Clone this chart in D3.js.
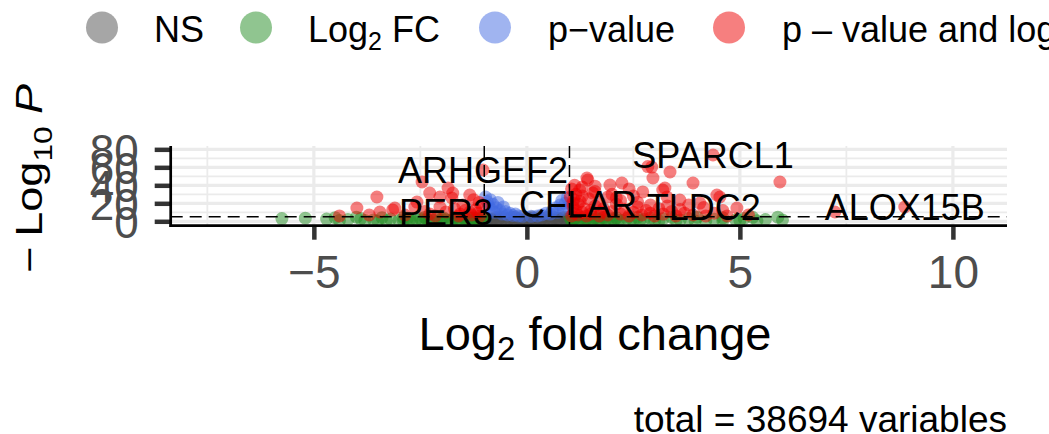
<!DOCTYPE html>
<html><head><meta charset="utf-8">
<script src="https://cdn.jsdelivr.net/npm/d3@7"></script>
<style>body{margin:0;background:#fff}svg{display:block;font-family:"Liberation Sans",Arial,Helvetica,sans-serif}</style>
</head><body><svg id="c" width="1049" height="434"></svg>
<script>
// ---- data: [log2 fold change, -log10 P] ----
const nsPoints = [[-0.95,1.2],[-0.9,3.1],[-0.85,0.4],[-0.8,2.2],[-0.75,4.1],[-0.7,1.0],[-0.65,2.9],[-0.6,0.3],[-0.55,3.8],[-0.5,1.6],[-0.45,0.6],[-0.4,2.5],[-0.35,4.4],[-0.3,1.1],[-0.25,0.2],[-0.2,3.0],[-0.15,1.8],[-0.1,0.5],[-0.05,2.4],[0,0.1],[0.05,1.4],[0.1,3.3],[0.15,0.7],[0.2,2.1],[0.25,4.0],[0.3,0.9],[0.35,2.7],[0.4,0.3],[0.45,3.6],[0.5,1.3],[0.55,0.5],[0.6,2.3],[0.65,4.3],[0.7,1.0],[0.75,2.9],[0.8,0.4],[0.85,3.7],[0.9,1.7],[0.95,0.8],[-0.98,4.6],[-0.62,4.7],[-0.28,4.6],[0.12,4.8],[0.48,4.6],[0.88,4.7],[-0.88,2.0],[-0.42,3.3],[0.02,3.9],[0.32,1.8],[0.72,3.4],[-0.72,2.6],[-0.18,0.9],[0.22,0.2],[0.62,0.9],[0.97,2.6]];
const fcPoints = [[-5.75,3.0],[-5.2,3.5],[-4.7,2.5],[-4.5,4.0],[-4.2,2.0],[-3.9,3.0],[-3.6,1.5],[-3.4,4.0],[-3.2,2.5],[-3.0,1.0],[-2.8,3.5],[-2.6,2.0],[-2.4,4.2],[-2.2,1.2],[-2.0,3.0],[-1.8,0.8],[-1.6,2.2],[-1.5,4.0],[-1.4,1.5],[-1.3,3.3],[-1.2,0.5],[-1.1,2.5],[-1.05,4.5],[-1.15,1.0],[-1.25,3.8],[-1.35,0.3],[-1.7,4.5],[-1.9,1.8],[-2.1,4.6],[-2.3,0.6],[-2.5,2.8],[-2.7,0.9],[-2.9,4.3],[-3.3,0.7],[-3.8,1.0],[-4.0,4.5],[1.05,0.5],[1.1,2.0],[1.15,3.5],[1.2,1.0],[1.3,4.3],[1.4,2.5],[1.5,0.8],[1.6,3.8],[1.7,1.6],[1.8,4.5],[1.9,0.4],[2.0,2.7],[2.1,4.0],[2.2,1.2],[2.35,3.2],[2.5,0.7],[2.6,4.4],[2.75,2.0],[2.9,3.6],[3.0,0.9],[3.2,2.8],[3.4,4.2],[3.6,1.3],[3.8,3.0],[4.0,4.6],[4.2,0.6],[4.4,2.4],[4.6,3.9],[4.9,1.5],[5.1,3.2],[5.3,4.4],[5.6,2.0],[5.89,4.6],[6.0,1.5],[1.25,2.2],[1.45,1.1],[1.65,2.9],[1.85,1.9],[2.05,0.9],[2.45,2.3],[-1.45,2.8],[-1.65,1.1],[-1.95,3.6],[-2.35,2.4],[-2.75,1.6],[-4.4,0.8],[-3.5,0.4],[-2.9,0.3],[-2.45,0.5],[-2.05,0.2],[-1.75,0.4],[-1.55,0.2],[-1.25,1.5],[-1.08,0.2],[1.08,0.2],[1.35,0.3],[1.55,1.9],[1.75,0.2],[2.15,0.3],[2.65,0.5],[3.1,0.3],[3.5,0.6],[3.95,0.4],[4.6,0.5],[5.0,0.8],[5.4,0.6],[-1.02,1.7],[1.02,3.0],[1.12,4.2],[-1.18,3.0]];
const pPoints = [[-0.97,27],[-0.93,22],[-0.9,17],[-0.86,24],[-0.83,13],[-0.8,19],[-0.76,10],[-0.72,15],[-0.68,21],[-0.63,12],[-0.58,8],[-0.55,16],[-0.5,11],[-0.45,7],[-0.4,9],[-0.33,6.5],[-0.27,8],[-0.2,6],[-0.1,5.5],[0.1,5.5],[0.25,6],[0.35,7],[0.45,9],[0.55,8],[0.6,12],[0.68,15],[0.72,10],[0.78,18],[0.82,23],[0.86,13],[0.9,20],[0.95,26],[0.97,16]];
const bothPoints = [[4.37,73.7],[2.93,60.3],[2.84,60.8],[3.36,54.8],[2.96,48.1],[1.41,48.1],[1.43,45.9],[2.23,42.6],[1.95,40.3],[3.90,42.6],[5.94,43.7],[3.24,37.0],[3.19,34.8],[1.24,34.8],[2.72,32.6],[1.55,31.4],[4.46,29.2],[3.29,27.0],[4.53,27.0],[3.59,23.7],[4.06,20.3],[4.93,14.8],[7.23,10.3],[8.87,15.9],[1.08,15.9],[1.20,19.2],[4.15,15.3],[1.05,6],[1.1,9],[1.15,12],[1.2,7],[1.3,10],[1.35,14],[1.4,6],[1.5,8],[1.5,12],[1.6,17],[1.7,6],[1.75,10],[1.8,14],[1.9,7],[2.0,11],[2.1,19],[2.2,8],[2.3,13],[2.4,6],[2.5,10],[2.6,16],[2.7,7],[2.8,12],[2.9,9],[3.0,6],[3.1,14],[3.2,8],[3.4,11],[3.5,6],[3.7,9],[3.9,7],[4.2,6],[4.4,9],[4.7,6],[1.25,22],[1.45,25],[1.7,21],[1.9,27],[2.2,23],[2.5,28],[2.0,30],[1.3,28],[1.6,33],[1.1,24],[1.15,30],[1.05,36],[1.12,40],[1.3,38],[1.02,27],[1.08,20],[2.6,21],[2.9,18],[3.3,17],[3.6,13],[3.8,18],[4.6,12],[5.2,7],[1.6,39],[2.4,36],[2.1,26],[-1.03,57.0],[-2.46,43.7],[-1.85,37.0],[-2.28,31.4],[-1.74,31.4],[-1.34,29.2],[-3.52,27.0],[-2.04,27.0],[-1.76,25.9],[-2.58,21.4],[-1.50,18.1],[-2.63,15.9],[-2.04,15.9],[-3.99,14.8],[-3.10,14.8],[-3.15,12.6],[-3.45,10.3],[-1.90,10.3],[-1.34,10.3],[-1.57,8.1],[-1.15,9.2],[-2.28,8.1],[-2.86,7.0],[-1.1,6],[-1.2,13],[-1.3,7],[-1.45,12],[-1.6,6],[-1.7,14],[-2.15,6],[-2.4,11],[-1.05,16],[-1.12,21],[-1.25,24],[-4.4,6],[-3.7,7]];
const geneLabels = ["SPARCL1","ARHGEF2","CFLAR","TLDC2","PER3","ALOX15B"];
const labelPoints = [[4.37,73.7],[-1.03,57.0],[1.20,19.2],[4.15,15.3],[-1.90,10.3],[8.87,15.9]];
const xTicks = [-5,0,5,10];
const xMinor = [-7.5,-2.5,2.5,7.5];
const yTicks = [0,20,40,60,80];
const yMinor = [10,30,50,70];
const legendNames = ["NS","Log2 FC","p−value","p – value and log2 FC"];
const legendColors = ["#4d4d4d","#228B22","#4169E1","#EE0000"];
const fcCutoff = 1, pCutoff = 5;
const totalVars = 38694;

// ---- layout ----
const svg = d3.select("#c");
const L = 170.7, R = 1007, T = 146, B = 225.7;
const x = d3.scaleLinear().domain([-8.36, 11.27]).range([L, R]);
const y = d3.scaleLinear().domain([-4.9, 83.7]).range([B, T]);

svg.append("rect").attr("width",1049).attr("height",434).attr("fill","#fff");
svg.append("clipPath").attr("id","pc").append("rect").attr("x",L).attr("y",T).attr("width",R-L).attr("height",B-T);

// grid
const g = svg.append("g");
g.selectAll(".gxm").data(xMinor).join("line").attr("x1",d=>x(d)).attr("x2",d=>x(d)).attr("y1",T).attr("y2",B).attr("stroke","#ebebeb").attr("stroke-width",1.8);
g.selectAll(".gym").data(yMinor).join("line").attr("y1",d=>y(d)).attr("y2",d=>y(d)).attr("x1",L).attr("x2",R).attr("stroke","#ebebeb").attr("stroke-width",1.8);
g.selectAll(".gx").data(xTicks).join("line").attr("x1",d=>x(d)).attr("x2",d=>x(d)).attr("y1",T).attr("y2",B).attr("stroke","#ebebeb").attr("stroke-width",3.2);
g.selectAll(".gy").data(yTicks).join("line").attr("y1",d=>y(d)).attr("y2",d=>y(d)).attr("x1",L).attr("x2",R).attr("stroke","#ebebeb").attr("stroke-width",3.2);

// points
const pts = svg.append("g").attr("clip-path","url(#pc)");
[[nsPoints,0],[fcPoints,1],[pPoints,2],[bothPoints,3]].forEach(([arr,ci])=>{
  pts.append("g").selectAll("circle").data(arr).join("circle")
    .attr("cx",d=>x(d[0])).attr("cy",d=>y(d[1])).attr("r",6.5)
    .attr("fill",legendColors[ci]).attr("fill-opacity",0.5);
});

// cutoff lines
const cut = svg.append("g").attr("clip-path","url(#pc)").attr("stroke","#000").attr("stroke-width",1.5).attr("stroke-dasharray","12,7");
[-fcCutoff, fcCutoff].forEach(v=>cut.append("line").attr("x1",x(v)).attr("x2",x(v)).attr("y1",T).attr("y2",B));
cut.append("line").attr("x1",L).attr("x2",R).attr("y1",y(pCutoff)).attr("y2",y(pCutoff));

// labels
svg.append("g").selectAll("text").data(geneLabels).join("text")
  .attr("x",(d,i)=>x(labelPoints[i][0])).attr("y",(d,i)=>y(labelPoints[i][1]))
  .attr("dy","0.36em").attr("text-anchor","middle").attr("font-size",36).attr("fill","#000").text(d=>d);

// axes
const xa = svg.append("g").attr("transform",`translate(0,${B})`)
  .call(d3.axisBottom(x).tickValues(xTicks).tickSize(14).tickPadding(16));
xa.select(".domain").remove();
xa.selectAll(".tick line").attr("stroke","#333").attr("stroke-width",4.5);
xa.selectAll(".tick text").attr("fill","#4d4d4d").attr("font-size",46).attr("font-family","Liberation Sans, Arial, sans-serif");

const ya = svg.append("g").attr("transform",`translate(${L},0)`)
  .call(d3.axisLeft(y).tickValues(yTicks).tickSize(16).tickPadding(16));
ya.select(".domain").remove();
ya.selectAll(".tick line").attr("stroke","#333").attr("stroke-width",4.5);
ya.selectAll(".tick text").attr("fill","#4d4d4d").attr("font-size",44).attr("dy","0.36em").attr("font-family","Liberation Sans, Arial, sans-serif");

svg.append("line").attr("x1",L).attr("x2",L).attr("y1",T).attr("y2",B+1.3).attr("stroke","#000").attr("stroke-width",2.7);
svg.append("line").attr("x1",L-1.3).attr("x2",R).attr("y1",B).attr("y2",B).attr("stroke","#000").attr("stroke-width",2.7);

// axis titles
const xt = svg.append("text").attr("x",595).attr("y",350).attr("text-anchor","middle").attr("font-size",47).attr("fill","#000");
xt.append("tspan").text("Log");
xt.append("tspan").attr("font-size",33).attr("dy",10).text("2");
xt.append("tspan").attr("dy",-10).text(" fold change");

const yt = svg.append("text").attr("transform","translate(42,273) rotate(-90) scale(1.22,1)").attr("text-anchor","start").attr("font-size",37).attr("fill","#000");
yt.append("tspan").text("−");
yt.append("tspan").attr("dx",8).text("Log");
yt.append("tspan").attr("font-size",26).attr("dy",10).text("10");
yt.append("tspan").attr("dy",-10).attr("dx",10).attr("font-style","italic").text("P");

// caption
svg.append("text").attr("x",R).attr("y",432).attr("text-anchor","end").attr("font-size",37).attr("fill","#000")
  .text(`total = ${totalVars} variables`);

// legend
const legX = [102,256,495,729], legTX = [154,308,548,782];
const lg = svg.append("g");
legendNames.forEach((n,i)=>{
  lg.append("circle").attr("cx",legX[i]).attr("cy",27.5).attr("r",16).attr("fill",legendColors[i]).attr("fill-opacity",0.5);
  const t = lg.append("text").attr("x",legTX[i]).attr("y",42).attr("font-size",36).attr("fill","#000");
  const m = n.match(/^(.*log)2(.*)$/i);
  if (m) {
    t.append("tspan").text(m[1]);
    t.append("tspan").attr("font-size",25).attr("dy",8).text("2");
    t.append("tspan").attr("dy",-8).text(m[2]);
  } else t.text(n);
});
</script></body></html>
